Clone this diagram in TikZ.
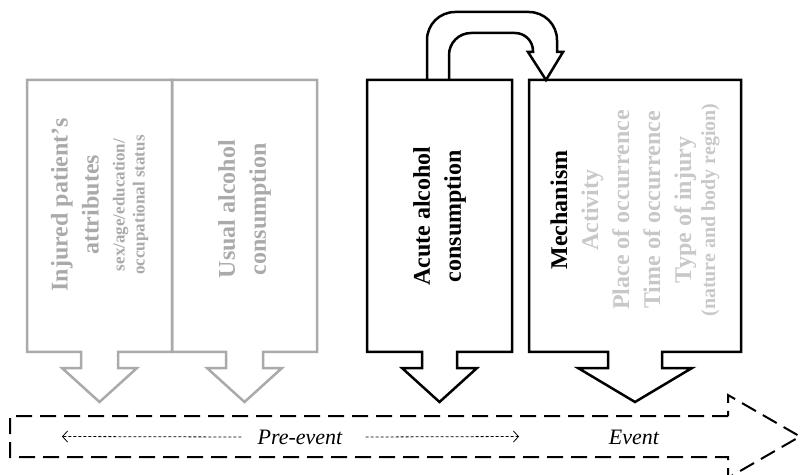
\documentclass[tikz,border=0pt]{standalone}
\usepackage{fontspec}
\setmainfont{Liberation Serif}
\usepackage{tikz}
\usetikzlibrary{calc}
\usetikzlibrary{arrows.meta}
\definecolor{boxgrey}{RGB}{170,170,170}
\definecolor{itemgrey}{RGB}{200,200,200}
\tikzset{
  box/.style={rectangle, minimum width=145pt, minimum height=272pt, inner sep=0pt, outer sep=0pt},
  greyline/.style={line width=2.5pt, boxgrey},
  blackline/.style={line width=2.5pt, black},
  boxtext/.style={rotate=90, align=center, font=\fontsize{24}{31}\selectfont\bfseries},
  timeline/.style={line width=2pt, dash pattern=on 16pt off 8pt},
  dotarrow/.style={line width=.8pt, dash pattern=on 3pt off 2pt, -{Straight Barb[length=5pt,width=11pt]}}
}
% box outline with a block arrow under it: node, half stem, half head
\newcommand{\blockbox}[3]{(#1.south west) -- (#1.north west) -- (#1.north east) -- (#1.south east)
  -- ($(#1.south)+(#2,0)$) -- ($(#1.south)+(#2,-16)$) -- ($(#1.south)+(#3,-16)$)
  -- ($(#1.south)+(0,-50)$) -- ($(#1.south)+(-#3,-16)$) -- ($(#1.south)+(-#2,-16)$)
  -- ($(#1.south)+(-#2,0)$) -- cycle}

\begin{document}
\begin{tikzpicture}[x=1pt, y=1pt]
\useasboundingbox (0,0) rectangle (800,474);
% boxes
\node[box] (attr) at (99.5,258) {};
\node[box] (usual) at (244.5,258) {};
\node[box] (acute) at (439.5,258) {};
\node[box, minimum width=212pt] (mech) at (635,258) {};
\draw[greyline] \blockbox{attr}{18.5}{37.5};
\draw[greyline] \blockbox{usual}{18.5}{37.5};
\draw[blackline] \blockbox{acute}{17.5}{37.5};
\draw[blackline] \blockbox{mech}{27}{57};
% labels
\node[boxtext, boxgrey] (attrlabel) at ([yshift=11pt]attr.center)
  {Injured patient's\\attributes\\[-5pt]{\fontsize{17}{20}\selectfont sex/age/education/}\\[-11pt]{\fontsize{17}{20}\selectfont occupational status}};
\node[boxtext, boxgrey] (usuallabel) at ([yshift=7pt]usual.center) {Usual alcohol\\consumption};
\node[boxtext] (acutelabel) at (acute.center) {Acute alcohol\\consumption};
\node[boxtext, itemgrey] (mechlabel) at ([yshift=6pt]mech.center)
  {{\color{black}Mechanism}\\Activity\\Place of occurrence\\Time of occurrence\\Type of injury\\[-7pt]{\fontsize{20}{24}\selectfont(nature and body region)}};
% curved arrow between acute and mechanism
\draw[blackline] ($(acute.north)+(-12.5,0)$) -- ++(0,40) arc[start angle=180, end angle=90, radius=28]
  -- ++(74,0) arc[start angle=90, end angle=0, radius=28] -- ++(0,-12) -- ++(6,0)
  -- ($(mech.north west)+(17,0)$) -- ++(-18,28) -- ++(5,0) -- ++(0,1)
  arc[start angle=0, end angle=90, radius=18] -- ++(-44,0)
  arc[start angle=90, end angle=180, radius=22] -- ($(acute.north)+(9.5,0)$);
% time line
\draw[timeline] (728,58) -- (10,58) -- (10,17) -- (728,17) -- (728,-4) -- (800,37.5) -- (728,79) -- cycle;
\node[font=\fontsize{22}{26}\selectfont\itshape, inner xsep=16pt] (pre) at (300,37) {Pre-event};
\node[font=\fontsize{22}{26}\selectfont\itshape] (event) at (634,37) {Event};
\coordinate (preleft) at (62,37.5);
\coordinate (preright) at (519,37.5);
\draw[dotarrow] (pre.west) -- (preleft);
\draw[dotarrow] ([xshift=7pt]pre.east) -- (preright);
\end{tikzpicture}
\end{document}
